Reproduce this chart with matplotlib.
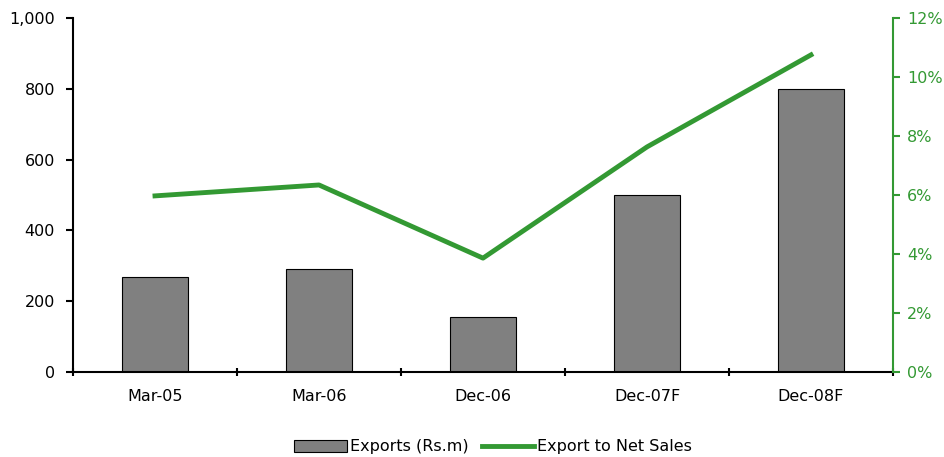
import matplotlib
matplotlib.use("Agg")
import matplotlib.pyplot as plt
from matplotlib.ticker import FuncFormatter, FixedLocator
import numpy as np

periods = ["Mar-05", "Mar-06", "Dec-06", "Dec-07F", "Dec-08F"]
exports = [268, 291, 155, 500, 800]          # Rs.m
export_to_sales = [5.97, 6.34, 3.86, 7.63, 10.75]  # %

green = "#339933"
plt.rcParams["font.family"] = ["Verdana", "DejaVu Sans"]
fs = 11.5

fig = plt.figure(figsize=(9.45, 4.57), dpi=100)
ax = fig.add_axes([73/945, 1 - 372/457, (893-73)/945, (372-18)/457])
x = np.arange(len(periods))

bars = ax.bar(x, exports, width=0.4, color="#808080", edgecolor="black",
              linewidth=0.8, label="Exports (Rs.m)", zorder=2)
ax.set_ylim(0, 1000)
ax.set_xlim(-0.5, len(periods) - 0.5)
ax.set_yticks(range(0, 1001, 200))
ax.yaxis.set_major_formatter(FuncFormatter(lambda v, p: f"{int(v):,}"))
ax.set_xticks(x)
ax.set_xticklabels(periods)
ax.tick_params(axis="x", length=0, pad=12, labelsize=fs)
ax.xaxis.set_minor_locator(FixedLocator(np.arange(-0.5, len(periods), 1)))
ax.tick_params(axis="x", which="minor", length=6, width=1.5, direction="inout")
ax.tick_params(axis="y", length=5, width=1.5, direction="out", labelsize=fs, pad=8)
for s in ["top", "right"]:
    ax.spines[s].set_visible(False)
ax.spines["left"].set_linewidth(1.5)
ax.spines["bottom"].set_linewidth(1.5)

ax2 = ax.twinx()
line, = ax2.plot(x, export_to_sales, color=green, linewidth=3.5,
                 label="Export to Net Sales", zorder=3)
ax2.set_ylim(0, 12)
ax2.set_yticks(range(0, 13, 2))
ax2.yaxis.set_major_formatter(FuncFormatter(lambda v, p: f"{int(v)}%"))
ax2.tick_params(axis="y", colors=green, length=5, width=1.5, labelsize=fs, pad=5)
for s in ["top", "left", "bottom"]:
    ax2.spines[s].set_visible(False)
ax2.spines["right"].set_color(green)
ax2.spines["right"].set_linewidth(1.5)

fig.legend([bars, line], ["Exports (Rs.m)", "Export to Net Sales"],
           loc="center", bbox_to_anchor=(0.522, 1 - 447/457), ncol=2,
           frameon=False, fontsize=fs, handlelength=3.3, handletextpad=0.2,
           columnspacing=0.8)

fig.savefig("out.png", dpi=100)
